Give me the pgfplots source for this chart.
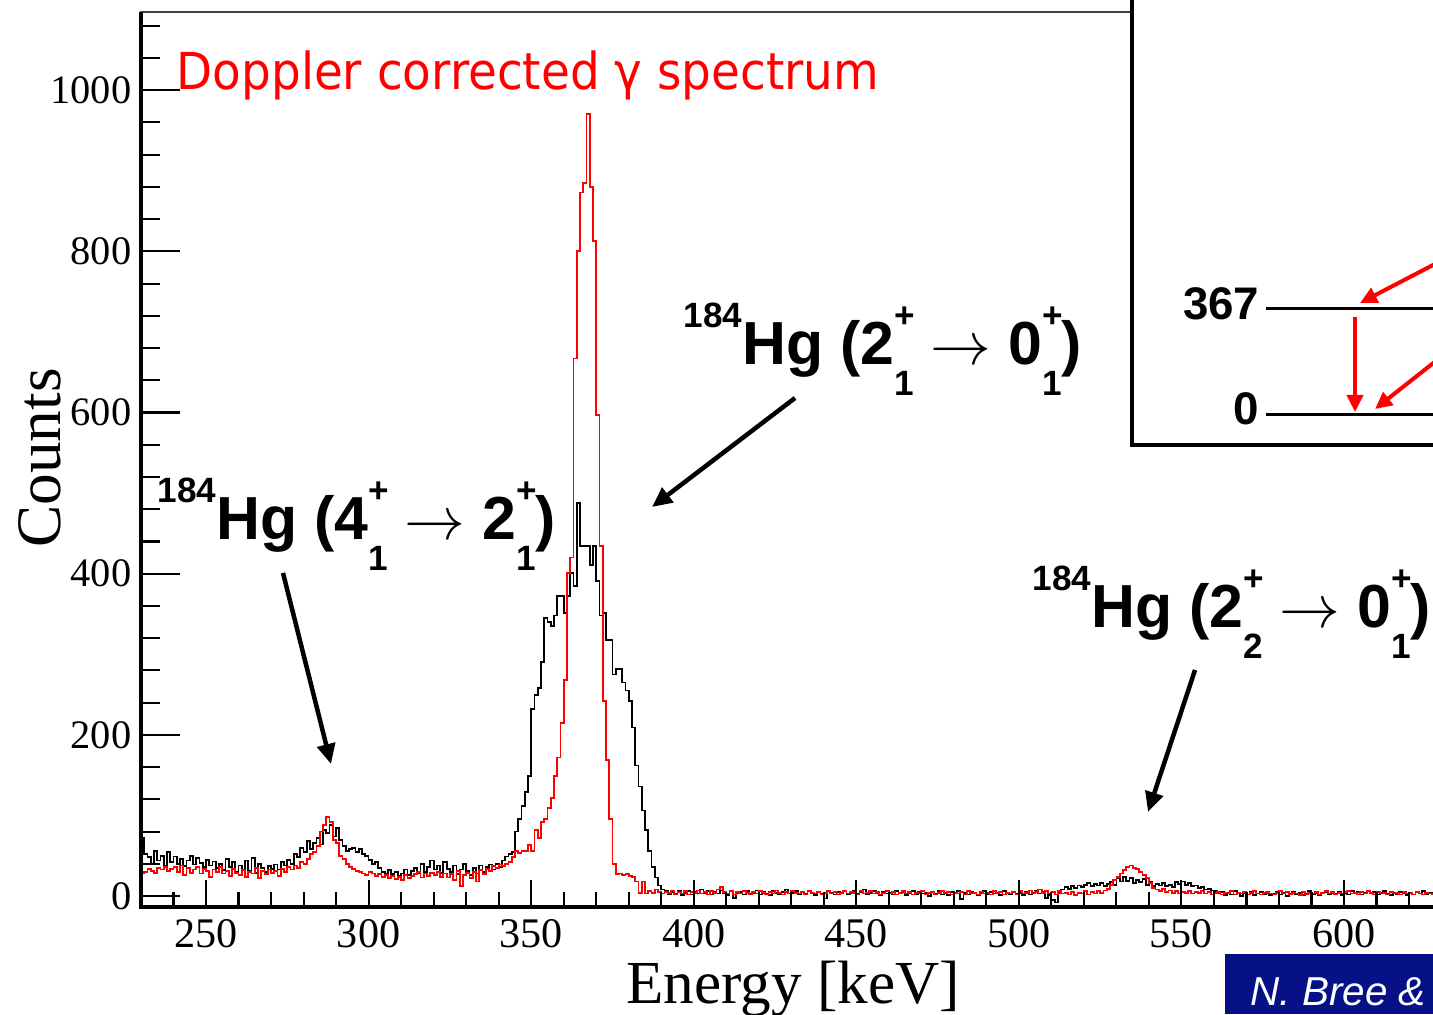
\documentclass[border=0pt]{standalone}
\usepackage{pgfplots}
\pgfplotsset{compat=1.18}
\usepackage{pgfplotstable}
\usepackage{graphicx}
\usepackage{fontspec}
\usetikzlibrary{arrows.meta}
\setmainfont{Liberation Serif}
\newfontfamily\lsans{Liberation Sans}
\newfontfamily\dejavu{DejaVu Sans}
\definecolor{navy}{RGB}{6,16,135}

\pgfplotstableread{
E B R
230 72 28
231 52 30
232 48 34
233 40 31
234 56 29
235 44 35
236 50 33
237 38 36
238 55 31
239 42 34
240 49 36
241 40 30
242 46 38
243 37 26
244 44 35
245 50 29
246 39 33
247 47 36
248 41 28
249 36 34
250 45 31
251 38 24
252 43 33
253 35 30
254 40 36
255 32 28
256 46 31
257 36 25
258 42 34
259 30 29
260 38 26
261 33 32
262 44 24
263 31 30
264 47 28
265 29 35
266 40 22
267 35 31
268 30 27
269 37 33
270 34 29
271 39 31
272 33 25
273 42 34
274 38 30
275 45 36
276 40 33
277 52 38
278 48 35
279 60 42
280 55 40
281 68 46
282 58 52
283 66 55
284 72 62
285 64 80
286 82 88
287 78 98
288 88 92
289 74 70
290 84 66
291 70 50
292 62 46
293 56 40
294 58 36
295 60 34
296 55 31
297 58 30
298 52 28
299 50 26
300 45 30
301 40 28
302 42 25
303 35 27
304 30 24
305 28 26
306 32 22
307 27 25
308 30 21
309 25 24
310 28 20
311 33 26
312 26 22
313 31 25
314 35 27
315 28 30
316 40 23
317 30 28
318 36 25
319 44 29
320 33 26
321 38 30
322 29 24
323 42 28
324 34 23
325 30 27
326 38 20
327 27 31
328 33 12
329 40 26
330 31 29
331 26 22
332 35 30
333 28 18
334 38 32
335 30 27
336 36 34
337 39 31
338 33 37
339 40 35
340 36 39
341 44 37
342 49 40
343 52 42
344 55 48
345 80 56
346 96 53
347 112 56
348 129 56
349 149 63
350 232 56
351 249 82
352 258 72
353 290 92
354 345 96
355 340 109
356 335 122
357 348 149
358 372 172
359 372 215
360 351 268
361 372 401
362 401 420
363 385 667
364 488 800
365 434 873
366 434 885
367 434 970
368 411 880
369 434 813
370 391 597
371 348 434
372 351 242
373 318 169
374 318 96
375 275 40
376 282 27
377 282 28
378 265 26
379 255 27
380 242 25
381 209 24
382 162 18
383 136 4
384 106 18
385 82 3
386 56 6
387 36 4
388 23 8
389 13 5
390 8 3
391 6 5
392 2 4
393 5 7
394 3 2
395 7 5
396 1 3
397 4 6
398 6 2
399 2 5
400 5 4
401 3 7
402 8 3
403 4 5
404 6 2
405 2 6
406 5 4
407 3 8
408 7 11
409 4 5
410 1 3
411 6 6
412 -2 2
413 4 5
414 5 3
415 2 6
416 6 4
417 3 2
418 4 5
419 7 3
420 2 6
421 5 4
422 3 2
423 1 5
424 6 3
425 4 7
426 2 4
427 5 2
428 8 5
429 3 3
430 4 6
431 6 4
432 2 3
433 5 5
434 3 2
435 7 6
436 4 4
437 1 3
438 5 5
439 3 2
440 -3 4
441 6 6
442 4 3
443 2 5
444 5 2
445 3 4
446 7 6
447 2 3
448 4 5
449 6 4
450 3 2
451 5 6
452 8 3
453 2 4
454 4 6
455 6 3
456 3 5
457 1 2
458 5 4
459 3 6
460 4 3
461 2 5
462 6 2
463 3 4
464 5 6
465 1 3
466 4 5
467 6 2
468 2 4
469 5 3
470 3 6
471 4 2
472 0 4
473 5 5
474 3 2
475 6 4
476 2 6
477 4 3
478 1 5
479 5 2
480 3 4
481 6 3
482 -4 5
483 4 2
484 2 6
485 5 3
486 3 4
487 1 2
488 4 5
489 6 3
490 2 4
491 5 2
492 3 6
493 4 3
494 1 5
495 6 2
496 3 4
497 2 3
498 5 5
499 3 2
500 4 6
501 1 3
502 5 4
503 2 7
504 4 3
505 6 5
506 3 8
507 5 4
508 -2 6
509 1 3
510 -5 5
511 -8 2
512 4 6
513 8 3
514 11 4
515 9 2
516 12 5
517 10 1
518 13 4
519 11 3
520 14 6
521 16 2
522 12 5
523 15 3
524 13 6
525 16 4
526 12 7
527 15 9
528 17 14
529 14 20
530 22 24
531 18 28
532 24 32
533 19 36
534 22 38
535 16 35
536 20 34
537 17 30
538 21 26
539 14 22
540 18 16
541 12 10
542 15 8
543 13 6
544 16 9
545 12 5
546 14 7
547 11 4
548 17 6
549 15 3
550 18 5
551 14 4
552 16 6
553 12 3
554 13 5
555 10 4
556 11 6
557 8 3
558 9 5
559 7 2
560 6 4
561 3 5
562 5 2
563 1 4
564 4 3
565 2 6
566 6 2
567 3 4
568 0 3
569 4 5
570 2 2
571 5 4
572 1 6
573 3 3
574 5 2
575 2 4
576 4 5
577 1 3
578 3 2
579 5 4
580 2 6
581 4 3
582 0 5
583 3 2
584 5 4
585 2 3
586 4 1
587 1 5
588 3 2
589 6 4
590 2 3
591 4 5
592 1 2
593 3 4
594 5 6
595 2 3
596 4 5
597 3 2
598 5 4
599 1 3
600 4 5
601 2 6
602 6 3
603 3 4
604 5 2
605 2 5
606 4 3
607 7 6
608 3 4
609 5 2
610 2 5
611 4 3
612 6 4
613 3 2
614 1 5
615 4 3
616 2 4
617 5 2
618 3 5
619 1 3
620 4 4
621 2 2
622 5 5
623 3 3
624 6 2
625 2 4
626 4 3
627 3 2
628 3 2
}\spec

\newcommand{\lv}[2]{#1\makebox[0pt][l]{\raisebox{0.62em}{\fontsize{10}{10}\selectfont +}}\raisebox{-0.5em}{\fontsize{10}{10}\selectfont #2}}
\newcommand{\hglabel}[4]{{\lsans\bfseries\fontsize{17.3}{17.3}\selectfont\raisebox{0.62em}{\fontsize{10}{10}\selectfont 184}Hg (\lv{#1}{#2} $\rightarrow$ \lv{#3}{#4})}}

\pgfplotsset{
  specframe/.style={
    at={(1.41cm,1.07cm)}, anchor=south west,
    scale only axis, width=12.94cm, height=8.95cm,
    xmin=230, xmax=628, ymin=-13.6, ymax=1097,
    clip=false,
    tick align=inside, tick pos=left,
    tick style={line width=0.6pt, black},
    /pgf/number format/assume math mode=true,
    /pgf/number format/1000 sep={},
  }
}

\begin{document}
\begin{tikzpicture}[x=1cm,y=1cm]
\path[use as bounding box] (0,0) rectangle (14.33,10.14);
% main axis: data and y ticks
\begin{axis}[
  specframe,
  axis line style={line width=0.4pt, black!75},
  xtick=\empty,
  ytick={0,200,...,1000}, minor ytick={40,80,...,1080},
  major tick length=0.39cm, minor tick length=0.19cm,
  yticklabel style={anchor=east, inner sep=0pt, xshift=-0.09cm, font=\fontsize{11.5}{11.5}\selectfont},
]
\addplot[const plot, black, line width=0.5pt] table[x=E,y=B]{\spec};
\addplot[const plot, red, line width=0.5pt] table[x=E,y=R]{\spec};
\end{axis}
% second frame: x ticks only
\begin{axis}[
  specframe,
  axis line style={draw=none},
  ytick=\empty,
  xtick={250,300,...,600}, minor xtick={230,240,...,620},
  major tick length=0.27cm, minor tick length=0.15cm,
  xticklabel style={anchor=north, inner sep=0pt, yshift=-0.12cm, font=\fontsize{12}{12}\selectfont},
]
\addplot[draw=none] coordinates {(230,0)};
\draw[line width=0.035cm] (rel axis cs:0,1) -- (rel axis cs:0,0) -- (rel axis cs:1,0);
\end{axis}

% axis titles
\node[rotate=90, anchor=base, inner sep=0, font=\fontsize{18}{18}\selectfont] at (0.60,5.56) {Counts};
\node[anchor=base, inner sep=0, font=\fontsize{17.4}{17.4}\selectfont] at (7.93,0.11) {Energy [keV]};

% title
\node[anchor=base west, inner sep=0, text=red, font=\dejavu\fontsize{14.5}{14.5}\selectfont] at (1.76,9.24) {\scalebox{0.92}[1]{Doppler corrected γ spectrum}};

% peak labels
\node[anchor=base west, inner sep=0] at (6.83,6.49) {\hglabel{2}{1}{0}{1}};
\node[anchor=base west, inner sep=0] at (1.57,4.74) {\hglabel{4}{1}{2}{1}};
\node[anchor=base west, inner sep=0] at (10.32,3.86) {\hglabel{2}{2}{0}{1}};

% arrows
\draw[line width=0.045cm, -{Triangle[length=0.2cm,width=0.18cm]}] (2.83,4.41) -- (3.31,2.50);
\draw[line width=0.045cm, -{Triangle[length=0.2cm,width=0.18cm]}] (7.95,6.16) -- (6.52,5.07);
\draw[line width=0.045cm, -{Triangle[length=0.2cm,width=0.18cm]}] (11.95,3.44) -- (11.48,2.02);

% level scheme inset
\draw[line width=0.04cm, fill=white] (11.32,5.69) rectangle (14.7,10.4);
\draw[line width=0.03cm] (12.66,7.05) -- (14.5,7.05);
\draw[line width=0.03cm] (12.66,5.99) -- (14.5,5.99);
\node[anchor=base east, inner sep=0, font=\lsans\bfseries\fontsize{13}{13}\selectfont] at (12.60,6.94) {367};
\node[anchor=base east, inner sep=0, font=\lsans\bfseries\fontsize{13}{13}\selectfont] at (12.60,5.89) {0};
\draw[red, line width=0.04cm, -{Triangle[length=0.17cm,width=0.16cm]}] (13.55,6.97) -- (13.55,6.02);
\draw[red, line width=0.04cm, -{Triangle[length=0.17cm,width=0.16cm]}] (14.60,7.63) -- (13.60,7.11);
\draw[red, line width=0.04cm, -{Triangle[length=0.17cm,width=0.16cm]}] (14.60,6.72) -- (13.75,6.05);

% credit box
\fill[navy] (12.25,0) rectangle (14.5,0.60);
\node[anchor=base west, inner sep=0, text=white, font=\lsans\itshape\fontsize{11.5}{11.5}\selectfont] at (12.50,0.09) {N. Bree \&};
\end{tikzpicture}
\end{document}
